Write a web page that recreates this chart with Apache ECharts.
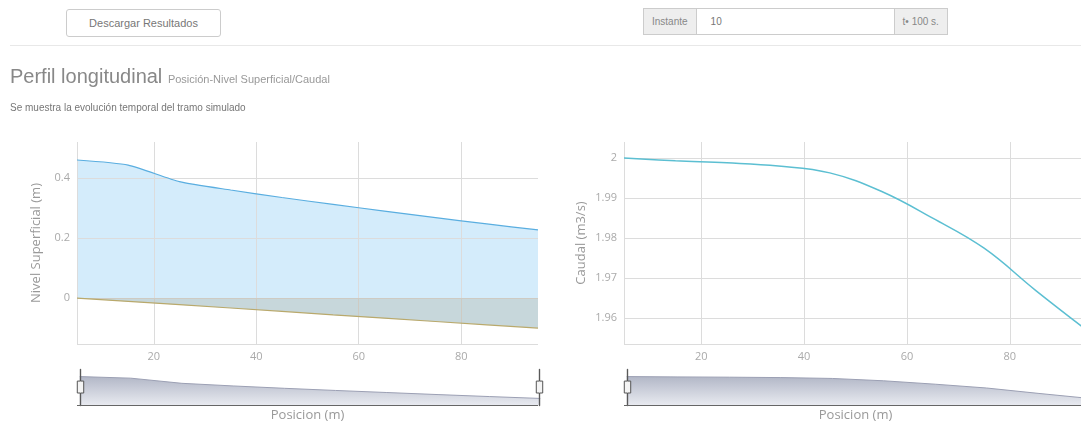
<!DOCTYPE html>
<html>
<head>
<meta charset="utf-8">
<script src="https://cdn.jsdelivr.net/npm/echarts@6/dist/echarts.min.js"></script>
<style>
    html, body { margin: 0; padding: 0; width: 1081px; height: 429px; overflow: hidden; background: #fff; font-family: "Liberation Sans", Arial, sans-serif; }
    #chart { position: absolute; left: 0; top: 0; width: 1100px; height: 429px; }
    .hdr { position: absolute; z-index: 2; }
    #btn { left: 66px; top: 9px; width: 153px; height: 26px; border: 1px solid #ccc; border-radius: 3px; font-size: 11px; color: #777; line-height: 26px; text-align: center; background: #fff; }
    #rule { left: 10px; top: 45px; width: 1071px; height: 0; border-top: 1px solid #e8e8e8; }
    #grp { left: 643px; top: 8px; height: 25px; display: flex; border: 1px solid #ccc; font-size: 10px; color: #888; }
    #grp div { line-height: 25px; }
    #grp .add { background: #eee; padding: 0 8px; }
    #grp .inp { width: 183px; border-left: 1px solid #ccc; border-right: 1px solid #ccc; padding-left: 14px; color: #777; background: #fff; }
    #title { left: 10px; top: 65px; color: #888; font-size: 20px; white-space: nowrap; }
    #title small { font-size: 11px; color: #999; }
    #desc { left: 10px; top: 102px; font-size: 10px; color: #777; }
</style>
</head>
<body>
<div class="hdr" id="btn">Descargar Resultados</div>
<div class="hdr" id="grp"><div class="add">Instante</div><div class="inp">10</div><div class="add">t• 100 s.</div></div>
<div class="hdr" id="rule"></div>
<div class="hdr" id="title">Perfil longitudinal <small>Posición-Nivel Superficial/Caudal</small></div>
<div class="hdr" id="desc">Se muestra la evolución temporal del tramo simulado</div>
<div id="chart"></div>
<script>
// posiciones (m)
const posicion = [5, 15, 25, 35, 45, 55, 65, 75, 85, 95];
// nivel superficial (m)
const nivel = [0.46, 0.443, 0.388, 0.36, 0.335, 0.312, 0.29, 0.268, 0.247, 0.227];
// cota del fondo (m)
const fondo = [0, -0.011, -0.022, -0.033, -0.044, -0.056, -0.067, -0.078, -0.089, -0.1];
// caudal (m3/s)
const caudal = [2.0, 1.9993, 1.9988, 1.998, 1.9963, 1.9917, 1.985, 1.9775, 1.967, 1.957];

const pares = (ys) => posicion.map((x, i) => [x, ys[i]]);

const myChart = echarts.init(document.getElementById('chart'));

const gridColor = '#dcdcdc';
const labelStyle = { color: '#aaa', fontSize: 11, fontFamily: 'Open Sans' };
const nameStyle = { color: '#999', fontSize: 13, fontFamily: 'Open Sans' };

function ejeX(idx) {
    return {
        type: 'value', gridIndex: idx, min: 5, max: 95, splitNumber: 4,
        name: 'Posicion (m)', nameLocation: 'middle', nameGap: 65, nameTextStyle: nameStyle,
        axisLine: { show: false }, axisTick: { show: false },
        axisLabel: Object.assign({ margin: 7, showMinLabel: false, showMaxLabel: false }, labelStyle),
        splitLine: { show: true, showMaxLine: false, lineStyle: { color: gridColor } }
    };
}

const sombra = new echarts.graphic.LinearGradient(0, 0, 0, 1, [
    { offset: 0, color: '#e8eaf0' },
    { offset: 1, color: '#b2b7c7' }
]);

function slider(idx, left, width) {
    const bg = { lineStyle: { color: '#9ca0b4', width: 1, opacity: 1 }, areaStyle: { color: sombra, opacity: 1 } };
    return {
        type: 'slider', xAxisIndex: idx, left: left, width: width, top: 370, height: 35,
        backgroundColor: 'transparent', borderColor: 'transparent', fillerColor: 'rgba(0,0,0,0)',
        dataBackground: bg, selectedDataBackground: bg,
        showDetail: false, brushSelect: false, moveHandleSize: 0,
        handleIcon: 'path://M4.8,0h0.4v14h3.3v13h-3.3v13h-0.4v-13h-3.3v-13h3.3z',
        handleSize: '105%',
        handleStyle: { color: '#f4f4f4', borderColor: '#555', borderWidth: 1 }
    };
}

const option = {
    animation: false,
    grid: [
        { left: 77, top: 142, width: 461, height: 202 },
        { left: 624, top: 142, width: 463, height: 202 }
    ],
    xAxis: [ejeX(0), ejeX(1)],
    yAxis: [
        {
            type: 'value', gridIndex: 0, min: -0.153, max: 0.52, splitNumber: 3,
            name: 'Nivel Superficial (m)', nameLocation: 'middle', nameGap: 34, nameTextStyle: nameStyle,
            axisLine: { show: false }, axisTick: { show: false },
            axisLabel: Object.assign({ margin: 7, showMinLabel: false, showMaxLabel: false }, labelStyle),
            splitLine: { show: true, showMaxLine: false, lineStyle: { color: gridColor } }
        },
        {
            type: 'value', gridIndex: 1, min: 1.9536, max: 2.004, splitNumber: 5,
            name: 'Caudal (m3/s)', nameLocation: 'middle', nameGap: 36, nameTextStyle: nameStyle,
            axisLine: { show: false }, axisTick: { show: false },
            axisLabel: Object.assign({ margin: 7, showMinLabel: false, showMaxLabel: false }, labelStyle),
            splitLine: { show: true, showMaxLine: false, lineStyle: { color: gridColor } }
        }
    ],
    dataZoom: [slider(0, 77, 461), slider(1, 624, 463)],
    graphic: [
        { type: 'line', shape: { x1: 77, y1: 405.5, x2: 538, y2: 405.5 }, style: { stroke: '#666', lineWidth: 1 }, z: 200 },
        { type: 'line', shape: { x1: 624, y1: 405.5, x2: 1087, y2: 405.5 }, style: { stroke: '#666', lineWidth: 1 }, z: 200 }
    ],
    series: [
        {
            // línea de nivel (primera serie: sombra del slider)
            name: 'Nivel', type: 'line', xAxisIndex: 0, yAxisIndex: 0,
            data: pares(nivel), showSymbol: false, smooth: 0.2, z: 4,
            lineStyle: { color: '#5aaee0', width: 1.2 }, itemStyle: { color: '#5aaee0' }
        },
        {
            // relleno azul del agua hasta el borde inferior
            name: 'Lamina', type: 'line', xAxisIndex: 0, yAxisIndex: 0,
            data: pares(nivel), showSymbol: false, smooth: 0.2, z: -3, silent: true,
            lineStyle: { width: 0 }, itemStyle: { color: '#d4ecfb' },
            areaStyle: { color: '#d4ecfb', opacity: 1, origin: 'start' }
        },
        {
            // blanco bajo el fondo del cauce
            name: 'Terreno', type: 'line', xAxisIndex: 0, yAxisIndex: 0,
            data: pares(fondo), showSymbol: false, z: -2, silent: true,
            lineStyle: { width: 0 }, itemStyle: { color: '#fff' },
            areaStyle: { color: '#fff', opacity: 1, origin: 'start' }
        },
        {
            name: 'Fondo', type: 'line', xAxisIndex: 0, yAxisIndex: 0,
            data: pares(fondo), showSymbol: false, z: 3,
            lineStyle: { color: '#b9a96c', width: 1.2 }, itemStyle: { color: '#b9a96c' },
            areaStyle: { color: 'rgba(152,136,96,0.2)', opacity: 1 }
        },
        {
            name: 'Caudal', type: 'line', xAxisIndex: 1, yAxisIndex: 1,
            data: pares(caudal), showSymbol: false, smooth: 0.4,
            lineStyle: { color: '#5cbfd2', width: 1.5 }, itemStyle: { color: '#5cbfd2' }
        }
    ]
};

myChart.setOption(option);
</script>
</body>
</html>
